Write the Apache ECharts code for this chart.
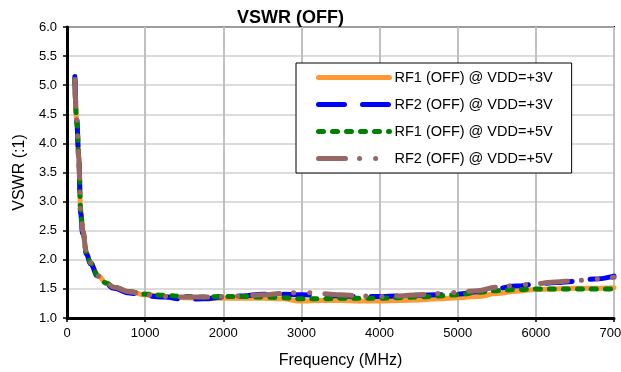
<!DOCTYPE html>
<html><head><meta charset="utf-8">
<script src="https://cdn.jsdelivr.net/npm/echarts@6/dist/echarts.min.js"></script>
<style>html,body{margin:0;padding:0;background:#fff}#c{width:621px;height:372px}</style>
</head><body><div id="c"></div>
<script>
var freqs = [100,125,150,175,200,250,300,400,500,600,800,1000,1250,1500,1750,2000,2250,2500,2750,3000,3250,3500,3750,4000,4250,4500,4750,5000,5250,5500,5750,6000,6250,6500,6750,7000];
var rf1v3 = [5.1,4.4,3.8,2.85,2.5,2.12,1.95,1.72,1.6,1.53,1.45,1.40,1.37,1.35,1.34,1.34,1.34,1.34,1.33,1.29,1.30,1.30,1.29,1.29,1.30,1.31,1.33,1.35,1.37,1.42,1.46,1.49,1.50,1.51,1.51,1.52];
var rf2v3 = [5.15,4.4,3.75,2.8,2.45,2.1,1.93,1.70,1.58,1.51,1.43,1.38,1.36,1.32,1.33,1.36,1.38,1.41,1.41,1.40,1.39,1.38,1.37,1.37,1.38,1.39,1.40,1.41,1.45,1.51,1.55,1.58,1.61,1.63,1.67,1.72];
var rf1v5 = [5.1,4.35,3.8,2.85,2.5,2.12,1.95,1.72,1.6,1.53,1.45,1.41,1.39,1.37,1.36,1.37,1.37,1.36,1.35,1.33,1.33,1.34,1.34,1.34,1.35,1.36,1.38,1.40,1.44,1.47,1.49,1.50,1.50,1.50,1.50,1.50];
var rf2v5 = [5.1,4.4,3.75,2.85,2.5,2.12,1.95,1.72,1.6,1.53,1.45,1.40,1.37,1.36,1.36,1.37,1.38,1.40,1.42,1.44,1.42,1.40,1.38,1.37,1.38,1.40,1.42,1.44,1.47,1.53,1.56,1.59,1.62,1.64,1.67,1.70];
var names = ['RF1 (OFF) @ VDD=+3V','RF2 (OFF) @ VDD=+3V','RF1 (OFF) @ VDD=+5V','RF2 (OFF) @ VDD=+5V'];
var xTicks = [0,1000,2000,3000,4000,5000,6000,7000];
var yTicks = ['1.0','1.5','2.0','2.5','3.0','3.5','4.0','4.5','5.0','5.5','6.0'];

function pairs(v){ return freqs.map(function(f,i){ return [f, v[i]]; }); }
var styles = [
  {color:'#FF9933', width:5, type:'solid'},
  {color:'#0000FF', width:5, type:[26,18]},
  {color:'#008000', width:5, type:[5,9]},
  {color:'#996666', width:5, type:[27,14,0.1,16,0.1,15]}
];
var vals = [rf1v3, rf2v3, rf1v5, rf2v5];
var series = vals.map(function(v,i){
  return {
    name: names[i], type:'line', data: pairs(v), showSymbol:false,
    smooth:0.4, smoothMonotone:'x',
    lineStyle:{color:styles[i].color, width:styles[i].width, type:styles[i].type, cap:'round'},
    itemStyle:{color:styles[i].color}, z: 2+i
  };
});
var font = 'Liberation Sans, Arial, sans-serif';
var chart = echarts.init(document.getElementById('c'), null, {renderer:'canvas'});
chart.setOption({
  animation:false,
  backgroundColor:'#fff',
  title:{text:'VSWR (OFF)', left:232, top:4,
    textStyle:{fontFamily:font, fontWeight:'bold', fontSize:18, color:'#000'}},
  grid:{left:67, right:7, top:27, bottom:54, show:true, borderColor:'#000', borderWidth:2,
    backgroundColor:'transparent', containLabel:false, outerBoundsMode:'none'},
  legend:{
    left:296, top:63, orient:'vertical', data:names,
    itemWidth:71, itemHeight:14, itemGap:12,
    padding:[7,19,7,20], backgroundColor:'#fff', borderColor:'#000', borderWidth:1,
    itemStyle:{opacity:0},
    lineStyle:{width:5},
    textStyle:{fontFamily:font, fontSize:14.5, color:'#000'}
  },
  xAxis:{type:'value', min:0, max:7000, interval:1000,
    name:'Frequency (MHz)', nameLocation:'middle', nameGap:35,
    nameTextStyle:{fontFamily:font, fontSize:16, color:'#000'},
    axisLine:{show:true, onZero:false, lineStyle:{color:'#000', width:3}},
    axisTick:{show:true, length:4, lineStyle:{color:'#000', width:1.5}},
    axisLabel:{fontFamily:font, fontSize:13, color:'#000', margin:9, hideOverlap:false,
      formatter:function(v){ return xTicks.indexOf(v)>=0 ? String(v) : ''; }},
    splitLine:{show:true, lineStyle:{color:'#C0C0C0', width:2}}
  },
  yAxis:{type:'value', min:1, max:6, interval:0.5,
    name:'VSWR (:1)', nameLocation:'middle', nameGap:29, nameRotate:90,
    nameTextStyle:{fontFamily:font, fontSize:16, color:'#000'},
    axisLine:{show:true, lineStyle:{color:'#000', width:3}},
    axisTick:{show:true, length:4, lineStyle:{color:'#000', width:1.5}},
    axisLabel:{fontFamily:font, fontSize:13, color:'#000', margin:10,
      formatter:function(v){ return yTicks[Math.round((v-1)/0.5)]; }},
    splitLine:{show:true, lineStyle:{color:'#D0D0D0', width:1.5}}
  },
  series: series
});
</script></body></html>
